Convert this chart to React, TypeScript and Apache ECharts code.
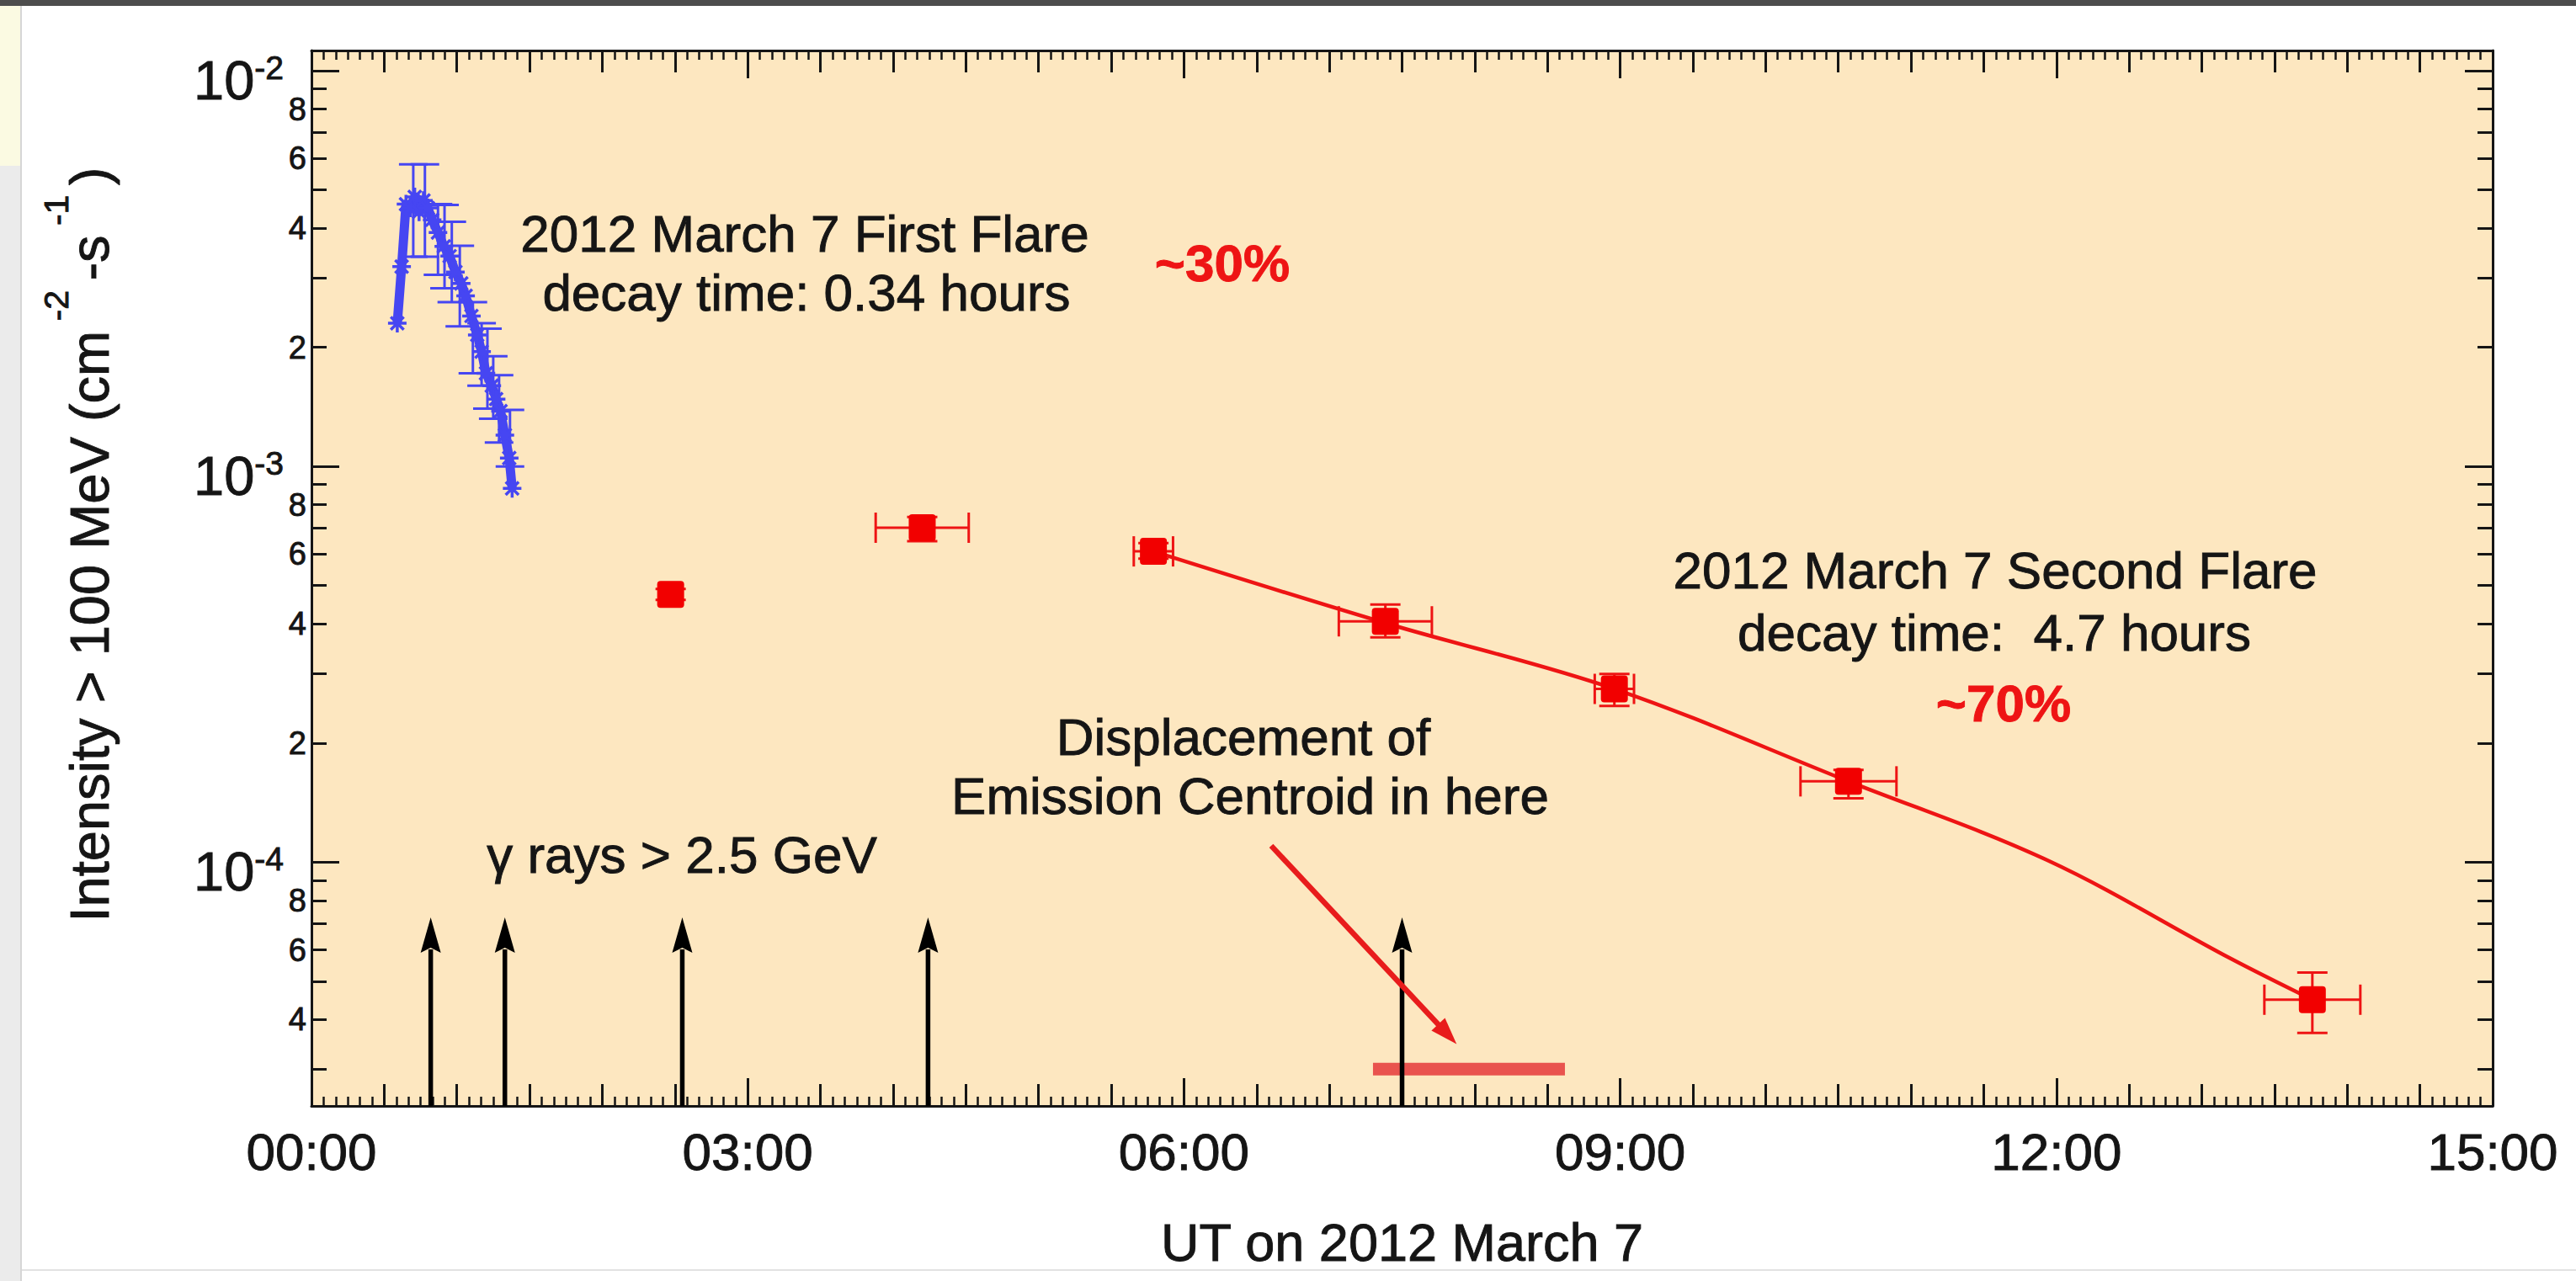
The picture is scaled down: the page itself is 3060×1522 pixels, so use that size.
import React, { useEffect, useRef } from "react";
import * as echarts from "echarts";

// ---------------- data ----------------
const xTickHours = [0, 3, 6, 9, 12, 15];
const xRange = [0, 15];
const yRange = [2.42e-5, 1.125e-2];
const yMajorExponents = [-4, -3, -2];
const yMinorMantissas = [2, 3, 4, 5, 6, 7, 8, 9];
const yLabeledMantissas = [2, 4, 6, 8];

// first flare (blue), hours UT and intensity
const blueTime = [0.59, 0.62, 0.65, 0.68, 0.71, 0.74, 0.77, 0.8, 0.83, 0.87, 0.91, 0.95, 0.99, 1.03, 1.06, 1.1, 1.14, 1.17, 1.2, 1.24, 1.27, 1.3, 1.33, 1.36, 1.38];
const blueFlux = [2.3e-3, 3.2e-3, 4.6e-3, 4.5e-3, 4.8e-3, 4.4e-3, 4.7e-3, 4.5e-3, 4.2e-3, 3.9e-3, 3.6e-3, 3.4e-3, 3.1e-3, 2.9e-3, 2.7e-3, 2.4e-3, 2.15e-3, 1.95e-3, 1.72e-3, 1.6e-3, 1.48e-3, 1.38e-3, 1.2e-3, 1.05e-3, 8.8e-4];
const blueErrTime = [0.7, 0.78, 0.87, 0.915, 0.965, 1.02, 1.11, 1.17, 1.21, 1.25, 1.29, 1.365];
const blueErrLo = [3.39e-3, 3.39e-3, 3.05e-3, 2.82e-3, 2.6e-3, 2.26e-3, 1.72e-3, 1.6e-3, 1.4e-3, 1.32e-3, 1.15e-3, 1.0e-3];
const blueErrHi = [5.8e-3, 5.8e-3, 4.6e-3, 4.58e-3, 4.15e-3, 3.61e-3, 2.6e-3, 2.3e-3, 2.23e-3, 1.9e-3, 1.7e-3, 1.39e-3];

// second flare (red) points
const redTime = [2.47, 4.2, 5.79, 7.385, 8.96, 10.57, 13.76];
const redFlux = [4.75e-4, 7.0e-4, 6.1e-4, 4.06e-4, 2.74e-4, 1.6e-4, 4.49e-5];
const redTimeErr = [0, 0.32, 0.135, 0.32, 0.135, 0.33, 0.33];
const redFluxLo = [4.6e-4, 6.47e-4, 5.85e-4, 3.7e-4, 2.48e-4, 1.45e-4, 3.7e-5];
const redFluxHi = [4.9e-4, 7.45e-4, 6.4e-4, 4.48e-4, 2.99e-4, 1.71e-4, 5.26e-5];

// decay fit curve
const fitTime = [5.79, 7.385, 8.96, 10.57, 11.94, 13.2, 13.76];
const fitFlux = [6.1e-4, 4.02e-4, 2.74e-4, 1.6e-4, 1.01e-4, 5.7e-5, 4.49e-5];

// gamma-ray (> 2.5 GeV) arrival arrows
const gammaTimes = [0.82, 1.33, 2.55, 4.24, 7.5];
const gammaTipFlux = 7.25e-5;

// emission centroid displacement bar and pointer
const centroidTimes = [7.3, 8.62];
const centroidFlux = 3.0e-5;
const pointerFrom = [6.6, 1.1e-4];
const pointerTo = [7.875, 3.47e-5];

// ---------------- styling ----------------
const FONT = '"Liberation Sans", Arial, Helvetica, sans-serif';
const INK = "#151515";
const RED = "#ee1414";
const BLUE = "#4646f2";
const BG = "#fde7c0";
const BOLDEN = { textBorderColor: INK, textBorderWidth: 0.9 };
const STROKE = { stroke: INK, lineWidth: 0.9 };

const L10 = (v: number) => Math.log10(v);

function buildOption(): any {
  const yMin = L10(yRange[0]);
  const yMax = L10(yRange[1]);
  const majorLogs = yMajorExponents.slice();
  const minorLogs: number[] = [];
  const labeledLogs: number[] = [];
  for (let e = -6; e <= 0; e++) {
    for (const m of yMinorMantissas) {
      const v = m * Math.pow(10, e);
      if (v >= yRange[0] && v <= yRange[1]) minorLogs.push(L10(v));
    }
    for (const m of yLabeledMantissas) {
      const v = m * Math.pow(10, e);
      if (v >= yRange[0] && v <= yRange[1]) labeledLogs.push(L10(v));
    }
  }
  const frame = { color: INK, width: 3 };
  const pad = (v: number) => (v < 10 ? "0" : "") + Math.round(v) + ":00";

  const xAxisBase = (position: string, labels: boolean) => [
    {
      type: "value",
      position,
      min: xRange[0],
      max: xRange[1],
      interval: 3,
      axisLine: { show: true, onZero: false, lineStyle: frame },
      axisTick: { show: true, inside: true, length: 33, lineStyle: { color: INK, width: 3 } },
      minorTick: { show: true, splitNumber: 6, length: 26, lineStyle: { color: INK, width: 3 } },
      splitLine: { show: false },
      minorSplitLine: { show: false },
      axisLabel: labels
        ? {
            show: true,
            customValues: xTickHours,
            margin: 23,
            fontSize: 62,
            lineHeight: 62,
            color: INK,
            fontFamily: FONT,
            formatter: pad,
            ...BOLDEN,
          }
        : { show: false },
      ...(labels
        ? {
            name: "UT on 2012 March 7",
            nameLocation: "middle",
            nameGap: 130,
            nameTextStyle: { fontSize: 63, lineHeight: 63, color: INK, fontFamily: FONT, ...BOLDEN },
          }
        : {}),
    },
    {
      type: "value",
      position,
      min: xRange[0],
      max: xRange[1],
      interval: 0.5,
      axisLine: { show: false, onZero: false },
      axisTick: { show: true, inside: true, length: 11, lineStyle: { color: INK, width: 2.5 } },
      minorTick: { show: true, splitNumber: 6, length: 11, lineStyle: { color: INK, width: 2.5 } },
      splitLine: { show: false },
      axisLabel: { show: false },
    },
  ];

  const yAxisBase = (position: string, labels: boolean) => [
    {
      type: "value",
      position,
      min: yMin,
      max: yMax,
      axisLine: { show: true, onZero: false, lineStyle: frame },
      axisTick: { show: true, inside: true, length: 33, customValues: majorLogs, lineStyle: { color: INK, width: 3 } },
      splitLine: { show: false },
      axisLabel: labels
        ? {
            show: true,
            customValues: majorLogs,
            margin: 33,
            formatter: (v: number) => "{b|10}{s|" + Math.round(v) + "}",
            rich: {
              b: { fontSize: 65, lineHeight: 65, fontFamily: FONT, color: INK, padding: [22, 0, 0, 0], ...BOLDEN },
              s: { fontSize: 39, lineHeight: 39, fontFamily: FONT, color: INK, verticalAlign: "top", padding: [9, 0, 0, 0], ...BOLDEN },
            },
          }
        : { show: false },
    },
    {
      type: "value",
      position,
      min: yMin,
      max: yMax,
      axisLine: { show: false, onZero: false },
      axisTick: { show: true, inside: true, length: 18, customValues: minorLogs, lineStyle: { color: INK, width: 3 } },
      splitLine: { show: false },
      axisLabel: labels
        ? {
            show: true,
            customValues: labeledLogs,
            margin: 6,
            padding: [12, 0, 0, 0],
            fontSize: 38,
            color: INK,
            fontFamily: FONT,
            formatter: (v: number) => String(Math.round(Math.pow(10, v - Math.floor(v + 1e-9)))),
            ...BOLDEN,
          }
        : { show: false },
    },
  ];

  const blueLine = blueTime.map((t, i) => [t, L10(blueFlux[i])]);
  const blueErr = blueErrTime.map((t, i) => [t, L10(blueErrLo[i]), L10(blueErrHi[i])]);
  const redPts = redTime.map((t, i) => [t, L10(redFlux[i]), redTimeErr[i], L10(redFluxLo[i]), L10(redFluxHi[i])]);
  const fitLine = fitTime.map((t, i) => [t, L10(fitFlux[i])]);
  const gamma = gammaTimes.map((t) => [t, L10(gammaTipFlux)]);
  const centroid = centroidTimes.map((t) => [t, L10(centroidFlux)]);
  const pointer = [[pointerFrom[0], L10(pointerFrom[1]), pointerTo[0], L10(pointerTo[1])]];

  const line = (x1: number, y1: number, x2: number, y2: number, stroke: string, w: number) => ({
    type: "line",
    shape: { x1, y1, x2, y2 },
    style: { stroke, lineWidth: w },
  });

  const text = (t: string, x: number, y: number, extra: any = {}) => ({
    type: "text",
    x,
    y,
    z: 50,
    style: {
      text: t,
      fill: INK,
      fontSize: 62,
      fontFamily: FONT,
      align: "center",
      verticalAlign: "middle",
      ...STROKE,
      ...extra,
    },
  });

  return {
    animation: false,
    backgroundColor: "#ffffff",
    grid: {
      left: 370,
      right: 99,
      top: 60,
      bottom: 208,
      show: true,
      backgroundColor: BG,
      borderWidth: 0,
      containLabel: false,
      outerBoundsMode: "none",
    },
    xAxis: [...xAxisBase("bottom", true), ...xAxisBase("top", false)],
    yAxis: [...yAxisBase("left", true), ...yAxisBase("right", false)],
    series: [
      {
        type: "custom",
        name: "first flare errors",
        data: blueErr,
        z: 3,
        renderItem: (_p: any, api: any) => {
          const top = api.coord([api.value(0), api.value(2)]);
          const bot = api.coord([api.value(0), api.value(1)]);
          const h = 17;
          return {
            type: "group",
            children: [
              line(top[0], top[1], bot[0], bot[1], BLUE, 3),
              line(top[0] - h, top[1], top[0] + h, top[1], BLUE, 3),
              line(bot[0] - h, bot[1], bot[0] + h, bot[1], BLUE, 3),
            ],
          };
        },
      },
      {
        type: "line",
        name: "first flare",
        data: blueLine,
        symbol: "path://M0,-10L0,10M-10,0L10,0M-7,-7L7,7M-7,7L7,-7",
        symbolSize: 22,
        itemStyle: { color: BLUE, borderColor: BLUE, borderWidth: 3.5 },
        z: 4,
        lineStyle: { color: BLUE, width: 11, join: "round" },
      },
      {
        type: "line",
        name: "decay fit",
        data: fitLine,
        symbol: "none",
        smooth: 0.35,
        z: 4,
        lineStyle: { color: RED, width: 4.5 },
      },
      {
        type: "custom",
        name: "second flare",
        data: redPts,
        z: 5,
        renderItem: (_p: any, api: any) => {
          const t = api.value(0);
          const v = api.value(1);
          const te = api.value(2);
          const c = api.coord([t, v]);
          const top = api.coord([t, api.value(4)]);
          const bot = api.coord([t, api.value(3)]);
          const cap = 18;
          const children: any[] = [];
          if (te > 0) {
            const l = api.coord([t - te, v]);
            const r = api.coord([t + te, v]);
            children.push(line(l[0], c[1], r[0], c[1], RED, 3));
            children.push(line(l[0], c[1] - cap, l[0], c[1] + cap, RED, 3));
            children.push(line(r[0], c[1] - cap, r[0], c[1] + cap, RED, 3));
          }
          children.push(line(c[0], top[1], c[0], bot[1], RED, 3));
          children.push(line(c[0] - cap, top[1], c[0] + cap, top[1], RED, 3));
          children.push(line(c[0] - cap, bot[1], c[0] + cap, bot[1], RED, 3));
          children.push({
            type: "rect",
            shape: { x: c[0] - 16, y: c[1] - 16, width: 32, height: 32, r: 4 },
            style: { fill: "#f20000" },
          });
          return { type: "group", children };
        },
      },
      {
        type: "custom",
        name: "gamma rays",
        data: gamma,
        z: 6,
        renderItem: (_p: any, api: any) => {
          const tip = api.coord([api.value(0), api.value(1)]);
          const base = api.coord([api.value(0), L10(yRange[0])]);
          const hw = 12;
          const hh = 42;
          return {
            type: "group",
            children: [
              line(tip[0], base[1], tip[0], tip[1] + hh - 4, "#000000", 5.5),
              {
                type: "polygon",
                shape: {
                  points: [
                    [tip[0], tip[1]],
                    [tip[0] - hw, tip[1] + hh],
                    [tip[0], tip[1] + hh - 6],
                    [tip[0] + hw, tip[1] + hh],
                  ],
                },
                style: { fill: "#000000" },
              },
            ],
          };
        },
      },
      {
        type: "line",
        name: "centroid",
        data: centroid,
        symbol: "none",
        z: 5,
        lineStyle: { color: "#e9534e", width: 15, cap: "butt" },
      },
      {
        type: "custom",
        name: "pointer",
        data: pointer,
        z: 7,
        renderItem: (_p: any, api: any) => {
          const a = api.coord([api.value(0), api.value(1)]);
          const b = api.coord([api.value(2), api.value(3)]);
          const dx = b[0] - a[0];
          const dy = b[1] - a[1];
          const len = Math.sqrt(dx * dx + dy * dy);
          const ux = dx / len;
          const uy = dy / len;
          const hl = 32;
          const hw = 11;
          const bx = b[0] - ux * hl;
          const by = b[1] - uy * hl;
          return {
            type: "group",
            children: [
              line(a[0], a[1], bx + ux * 4, by + uy * 4, "#e81c1c", 6.5),
              {
                type: "polygon",
                shape: {
                  points: [
                    [b[0], b[1]],
                    [bx - uy * hw, by + ux * hw],
                    [bx + uy * hw, by - ux * hw],
                  ],
                },
                style: { fill: "#e81c1c" },
              },
            ],
          };
        },
      },
    ],
    graphic: [
      { type: "rect", z: 0, shape: { x: 0, y: 0, width: 3060, height: 7 }, style: { fill: "#4d4d4d" } },
      { type: "rect", z: 0, shape: { x: 0, y: 7, width: 24, height: 190 }, style: { fill: "#fbfae2" } },
      { type: "rect", z: 0, shape: { x: 0, y: 197, width: 24, height: 1325 }, style: { fill: "#ebebeb" } },
      { type: "rect", z: 0, shape: { x: 24, y: 7, width: 2, height: 1515 }, style: { fill: "#d6d6d6" } },
      { type: "rect", z: 0, shape: { x: 26, y: 1508, width: 3034, height: 2 }, style: { fill: "#e2e2e2" } },
      {
        type: "text",
        x: 106,
        y: 647,
        rotation: Math.PI / 2,
        z: 50,
        style: {
          text: "{n|Intensity > 100 MeV (cm}{s| -2 }{n|-s}{s| -1 }{n|)}",
          align: "center",
          verticalAlign: "middle",
          fill: INK,
          ...STROKE,
          rich: {
            n: { fontSize: 65, lineHeight: 120, fontFamily: FONT, fill: INK, ...STROKE },
            s: { fontSize: 41, lineHeight: 42, fontFamily: FONT, fill: INK, verticalAlign: "top", ...STROKE },
          },
        },
      },
      text("2012 March 7 First Flare", 956, 277),
      text("decay time: 0.34 hours", 958, 347),
      text("~30%", 1452, 312, { fill: RED, stroke: RED, fontWeight: "bold" }),
      text("2012 March 7 Second Flare", 2370, 677),
      text("decay time:  4.7 hours", 2369, 751),
      text("~70%", 2380, 835, { fill: RED, stroke: RED, fontWeight: "bold" }),
      text("\u03b3 rays > 2.5 GeV", 810, 1015),
      text("Displacement of", 1477, 875),
      text("Emission Centroid in here", 1485, 945),
    ],
  };
}

export default function App() {
  const ref = useRef<HTMLDivElement>(null);
  useEffect(() => {
    const el = ref.current;
    if (!el) return;
    const chart = echarts.init(el, null, { renderer: "svg" });
    chart.setOption(buildOption());
    return () => chart.dispose();
  }, []);
  return (
    <div
      ref={ref}
      style={{ position: "fixed", left: 0, top: 0, width: 3060, height: 1522, background: "#ffffff" }}
    />
  );
}
